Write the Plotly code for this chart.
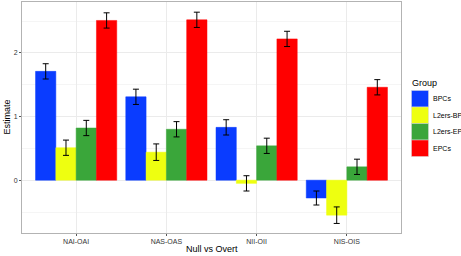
import plotly.graph_objects as go

categories = ["NAI-OAI", "NAS-OAS", "NII-OII", "NIS-OIS"]
groups = ["BPCs", "L2ers-BP", "L2ers-EP", "EPCs"]
colors = ["#0a3cff", "#eeff10", "#3aa63a", "#ff0000"]
values = {
    "BPCs": [1.71, 1.31, 0.83, -0.28],
    "L2ers-BP": [0.51, 0.44, -0.05, -0.55],
    "L2ers-EP": [0.82, 0.80, 0.54, 0.21],
    "EPCs": [2.51, 2.52, 2.22, 1.46],
}
errors = {
    "BPCs": [0.12, 0.12, 0.12, 0.11],
    "L2ers-BP": [0.12, 0.13, 0.12, 0.13],
    "L2ers-EP": [0.12, 0.12, 0.12, 0.12],
    "EPCs": [0.12, 0.12, 0.12, 0.12],
}

W, H = 461, 256
ML, MR, MT, MB = 22, 60, 2, 23

fig = go.Figure()
for g, c in zip(groups, colors):
    fig.add_trace(go.Bar(
        x=categories, y=values[g], name=g,
        marker=dict(color=c, line=dict(color=c, width=0.5)),
        error_y=dict(type="data", array=errors[g], color="black", thickness=1, width=3),
        showlegend=False,
    ))

# manual legend (keys built from groups/colors)
pw, ph = W - ML - MR, H - MT - MB
def px_x(x):
    return (x - ML) / pw
def px_y(y):
    return (H - MB - y) / ph

shapes = []
annotations = [
    dict(text="Null vs Overt", xref="paper", yref="paper", x=px_x(212), y=px_y(249),
         xanchor="center", yanchor="middle", showarrow=False,
         font=dict(size=9, color="black")),
    dict(text="Estimate", xref="paper", yref="paper", x=px_x(6), y=0.5,
         xanchor="center", yanchor="middle", textangle=-90, showarrow=False,
         font=dict(size=9, color="black")),
    dict(text="Group", xref="paper", yref="paper", x=px_x(410), y=px_y(83),
         xanchor="left", yanchor="middle", showarrow=False,
         font=dict(size=9, color="black")),
]
top = 90.5
for i, (g, c) in enumerate(zip(groups, colors)):
    y0 = top + i * 16.5
    shapes.append(dict(type="rect", xref="paper", yref="paper",
                       x0=px_x(411.5), x1=px_x(428.5), y0=px_y(y0), y1=px_y(y0 + 16.5),
                       fillcolor=c, line=dict(color="#d8d8d8", width=0.5)))
    annotations.append(dict(text=g, xref="paper", yref="paper", x=px_x(431), y=px_y(y0 + 8.25),
                            xanchor="left", yanchor="middle", showarrow=False,
                            font=dict(size=7, color="black")))

fig.update_layout(
    width=W, height=H,
    margin=dict(l=ML, r=MR, t=MT, b=MB, autoexpand=False),
    barmode="group", bargap=0.1, bargroupgap=0,
    plot_bgcolor="white", paper_bgcolor="white",
    font=dict(family="Liberation Sans, Arial, sans-serif", size=7, color="#333333"),
    showlegend=False,
    xaxis=dict(
        automargin=False,
        showgrid=True, gridcolor="#ebebeb", gridwidth=1,
        ticks="outside", ticklen=2, tickcolor="#555555",
        showline=True, linecolor="#b3b3b3", mirror=True,
        range=[-0.6, 3.6],
    ),
    yaxis=dict(
        automargin=False,
        range=[-0.83, 2.8], tickvals=[0, 1, 2],
        showgrid=True, gridcolor="#ebebeb", gridwidth=1,
        minor=dict(tickvals=[-0.5, 0.5, 1.5, 2.5], showgrid=True, gridcolor="#f5f5f5"),
        zeroline=False,
        ticks="outside", ticklen=2, tickcolor="#555555",
        showline=True, linecolor="#b3b3b3", mirror=True,
    ),
    shapes=shapes,
    annotations=annotations,
)

fig.write_html("out.html", post_script="document.body.style.margin='0';",
               config={"displayModeBar": False})
